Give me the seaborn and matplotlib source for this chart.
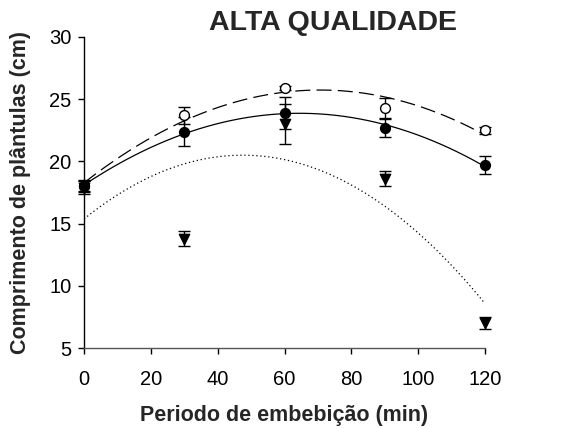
import numpy as np
import pandas as pd
import matplotlib
matplotlib.use("Agg")
import matplotlib.pyplot as plt
import seaborn as sns

# Imbibition period (min)
periodo = [0, 30, 60, 90, 120]

# Seedling length means (cm) and standard errors for each treatment
media_aberto = [18.0, 23.7, 25.9, 24.3, 22.5]
erro_aberto = [0.4, 0.7, 0.2, 0.8, 0.3]

media_cheio = [18.0, 22.4, 23.9, 22.7, 19.7]
erro_cheio = [0.5, 1.2, 1.3, 0.7, 0.7]

media_triangulo = [17.9, 13.8, 23.0, 18.6, 7.0]
erro_triangulo = [0.5, 0.6, 1.6, 0.6, 0.5]

x_ticks = [0, 20, 40, 60, 80, 100, 120]
y_ticks = [5, 10, 15, 20, 25, 30]

sns.set_style("ticks")
plt.rcParams["font.family"] = ["Liberation Sans", "DejaVu Sans"]

fig = plt.figure(figsize=(5.61, 4.28), dpi=100)
ax = fig.add_axes([84 / 561, 1 - 348 / 428, (485 - 84) / 561, (348 - 37) / 428])

series = [
    ("aberto", media_aberto, erro_aberto, "o", "white", (0, (12, 5))),
    ("cheio", media_cheio, erro_cheio, "o", "black", "-"),
    ("triangulo", media_triangulo, erro_triangulo, "v", "black", (0, (1, 2.2))),
]

# Quadratic regression curves
xs = np.linspace(0, 120, 200)
curvas = []
for nome, media, erro, mk, fc, ls in series:
    coef = np.polyfit(periodo, media, 2)
    curvas.append(pd.DataFrame({"x": xs, "y": np.polyval(coef, xs), "serie": nome}))
df_curvas = pd.concat(curvas, ignore_index=True)

for nome, media, erro, mk, fc, ls in series:
    sub = df_curvas[df_curvas["serie"] == nome]
    sns.lineplot(data=sub, x="x", y="y", ax=ax, color="black", lw=0.9,
                 linestyle=ls, legend=False)

# Means with error bars
for nome, media, erro, mk, fc, ls in series:
    eb = ax.errorbar(periodo, media, yerr=erro, fmt="none", ecolor="black",
                     elinewidth=1.0, capsize=4, capthick=1.0, zorder=3)
    for art in eb.lines[1] + eb.lines[2]:
        art.set_clip_on(False)
    df_pts = pd.DataFrame({"x": periodo, "y": media})
    sns.scatterplot(data=df_pts, x="x", y="y", ax=ax, marker=mk, s=50 if mk == "o" else 55,
                    facecolor=fc, edgecolor="black", linewidth=1.0, zorder=4,
                    legend=False, clip_on=False)

ax.set_xlim(0, 120)
ax.set_ylim(5, 30)
ax.set_xticks(x_ticks)
ax.set_yticks(y_ticks)
ax.tick_params(axis="both", labelsize=14.5, direction="out", length=4, width=1, colors="black")
ax.tick_params(axis="x", pad=12)
ax.tick_params(axis="y", pad=5)
for s in ["top", "right"]:
    ax.spines[s].set_visible(False)
ax.spines["left"].set_linewidth(1.0)
ax.spines["left"].set_color("black")
ax.spines["bottom"].set_linewidth(1.0)
ax.spines["bottom"].set_color("#555555")

ax.set_xlabel("Periodo de embebição (min)", fontsize=15.5, fontweight="bold", labelpad=11)
ax.set_ylabel("Comprimento de plântulas (cm)", fontsize=15.5, fontweight="bold", labelpad=13)

fig.text(333 / 561, 1 - 23 / 428, "ALTA QUALIDADE", ha="center", va="center",
         fontsize=20.5, fontweight="bold")

fig.savefig("out.png", dpi=100)
